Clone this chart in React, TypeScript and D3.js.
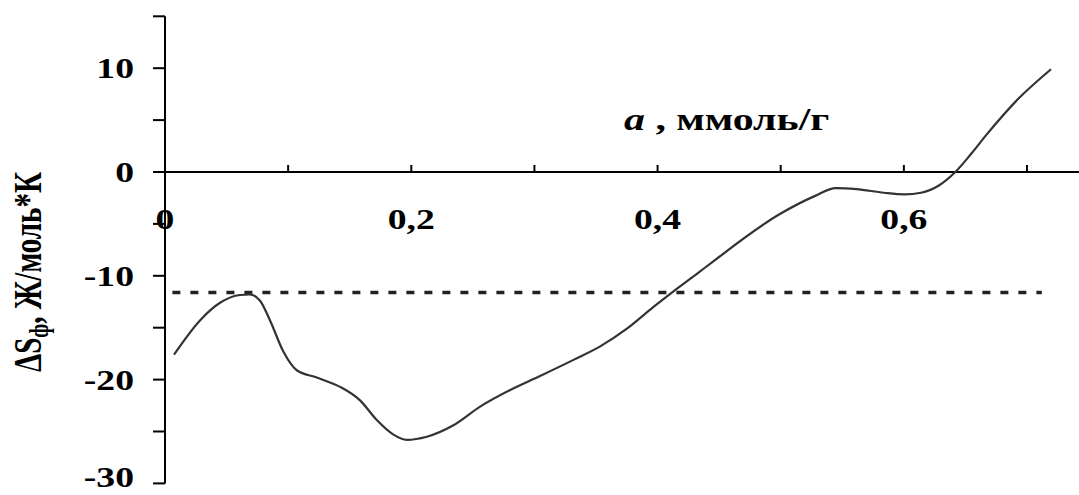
import React, { useEffect, useRef } from 'react';
import * as d3 from 'd3';

// adsorption a, mmol/g
const aValues = [
  0.0073, 0.0284, 0.0447, 0.0609, 0.069, 0.0772, 0.0853, 0.0961, 0.107, 0.1232,
  0.1422, 0.1584, 0.172, 0.1855, 0.1963, 0.2126, 0.2342, 0.2559, 0.2803, 0.3046,
  0.3317, 0.3534, 0.3751, 0.3967, 0.4129, 0.4332, 0.4442, 0.5, 0.528, 0.5447,
  0.5615, 0.5838, 0.6006, 0.614, 0.6284, 0.6418, 0.655, 0.6665, 0.6925, 0.7195,
];
// differential entropy, J/(mol*K)
const dsValues = [
  -17.6, -14.3, -12.6, -11.85, -11.8, -12.4, -14.3, -17.3, -19.1, -19.8,
  -20.7, -22.0, -23.9, -25.3, -25.8, -25.5, -24.4, -22.6, -21.0, -19.65,
  -18.1, -16.8, -15.1, -13.0, -11.5, -9.7, -8.7, -4.0, -2.3, -1.55,
  -1.65, -2.0, -2.15, -2.0, -1.3, 0, 1.8, 3.5, 7.0, 9.9,
];
const refLevel = -11.6;
const refStart = 0.006;
const refEnd = 0.712;

const yTickValues = [15, 10, 5, 0, -5, -10, -15, -20, -25, -30];
const yTickLabels = ['10', '0', '-10', '-20', '-30'];
const xTickValues = [0, 0.1, 0.2, 0.3, 0.4, 0.5, 0.6, 0.7];
const xTickLabels = ['0', '0,2', '0,4', '0,6'];

const W = 1079;
const H = 495;
const FONT = '"Liberation Serif", "Times New Roman", serif';
const STRETCH = 1.3;

export default function App() {
  const svgRef = useRef<SVGSVGElement>(null);

  useEffect(() => {
    const svg = d3.select(svgRef.current);
    svg.selectAll('*').remove();

    const x = d3.scaleLinear().domain([0, 0.7]).range([165, 1027]);
    const y = d3.scaleLinear().domain([-30, 15]).range([483.4, 16.3]);

    const axes = svg.append('g').attr('stroke', '#000').attr('stroke-width', 2);
    // y axis
    axes.append('line').attr('x1', x(0)).attr('x2', x(0)).attr('y1', y(15)).attr('y2', y(-30));
    yTickValues.forEach(v => {
      axes.append('line').attr('x1', x(0) - 12).attr('x2', x(0)).attr('y1', y(v)).attr('y2', y(v));
    });
    // x axis
    axes.append('line').attr('x1', x(0) - 12).attr('x2', W).attr('y1', y(0)).attr('y2', y(0));
    xTickValues.forEach(v => {
      axes.append('line').attr('x1', x(v)).attr('x2', x(v)).attr('y1', y(0) - 7).attr('y2', y(0));
    });

    const label = (g: any, px: number, py: number, txt: string, anchor: string) =>
      g.append('text')
        .attr('transform', `translate(${px},${py}) scale(${STRETCH},1)`)
        .attr('text-anchor', anchor)
        .attr('font-family', FONT).attr('font-weight', 'bold').attr('font-size', 29)
        .attr('fill', '#000')
        .text(txt);

    const tl = svg.append('g');
    yTickLabels.forEach(t => {
      // the lowest label sits at the bottom edge, keep it inside
      label(tl, 134, Math.min(y(+t) + 10, 487), t, 'end');
    });
    xTickLabels.forEach(t => {
      label(tl, x(+t.replace(',', '.')), 229, t, 'middle');
    });

    // x axis title
    const xt = svg.append('text')
      .attr('transform', `translate(624,130) scale(1.35,1)`)
      .attr('font-family', FONT).attr('font-weight', 'bold').attr('font-size', 31)
      .attr('fill', '#000');
    xt.append('tspan').attr('font-style', 'italic').text('a');
    xt.append('tspan').text(' , ммоль/г');

    // y axis title
    const yt = svg.append('text')
      .attr('transform', `translate(41,272) rotate(-90) scale(1,1.4)`)
      .attr('text-anchor', 'middle')
      .attr('font-family', FONT).attr('font-weight', 'bold').attr('font-size', 29)
      .attr('fill', '#000');
    yt.append('tspan').text('ΔS');
    yt.append('tspan').attr('font-size', 20).attr('dy', 5).text('ф');
    yt.append('tspan').attr('dy', -5).text(', Ж/моль*К');

    // reference level
    svg.append('line')
      .attr('x1', x(refStart)).attr('x2', x(refEnd))
      .attr('y1', y(refLevel)).attr('y2', y(refLevel))
      .attr('stroke', '#222').attr('stroke-width', 3.5).attr('stroke-dasharray', '8 10');

    // curve
    const pts = aValues.map((a, i) => [a, dsValues[i]] as [number, number]);
    const line = d3.line<[number, number]>()
      .x(d => x(d[0])).y(d => y(d[1]))
      .curve(d3.curveMonotoneX);
    svg.append('path').datum(pts)
      .attr('fill', 'none').attr('stroke', '#333').attr('stroke-width', 2.2)
      .attr('d', line);
  }, []);

  return (
    <div style={{ position: 'absolute', left: 0, top: 0, width: W, height: H, background: '#fff' }}>
      <svg ref={svgRef} width={W} height={H} style={{ display: 'block' }} />
    </div>
  );
}
